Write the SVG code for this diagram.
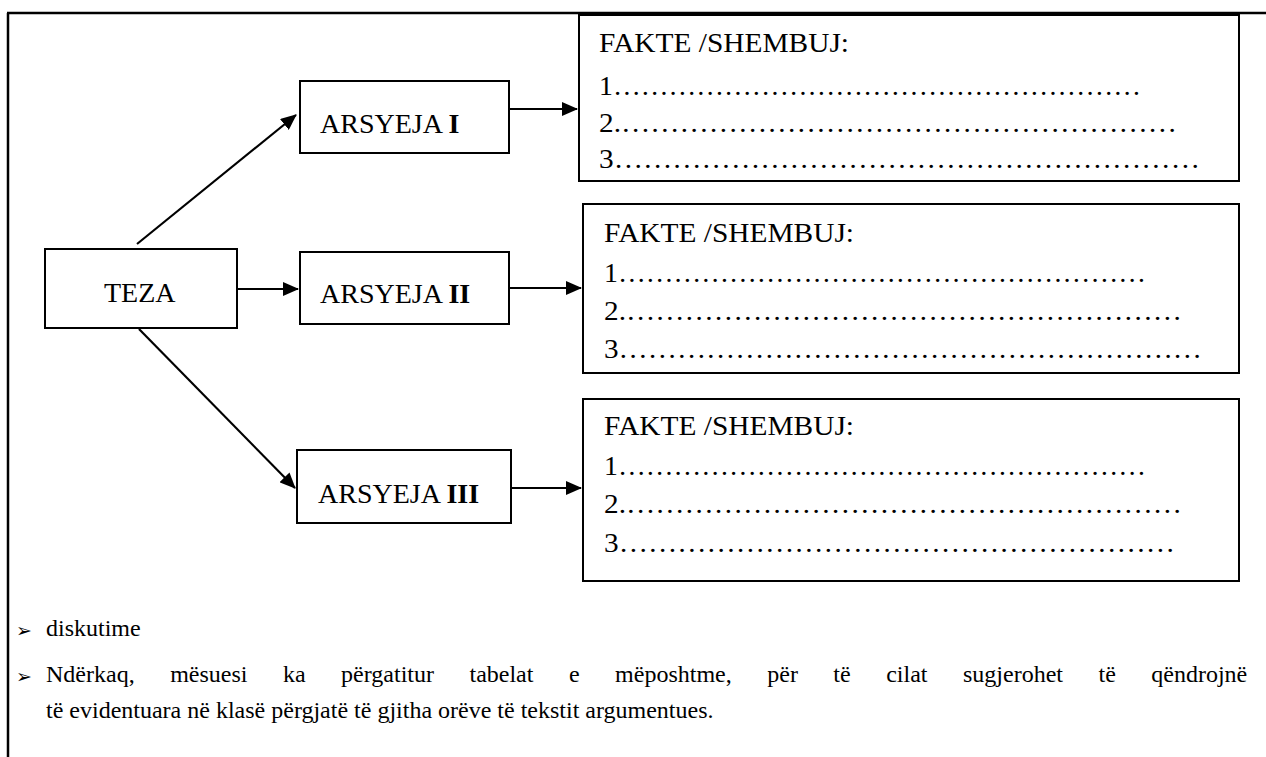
<svg xmlns="http://www.w3.org/2000/svg" width="1266" height="757" viewBox="0 0 1266 757">
<style>
.box{fill:#fff;stroke:#000;stroke-width:2}
.t{font-family:"Liberation Serif","Times New Roman",serif;font-size:28px;fill:#000}
.b{font-weight:bold}
.conn{stroke:#000;stroke-width:2.2;fill:none;marker-end:url(#ah)}
.body{font-family:"Liberation Serif","Times New Roman",serif;font-size:24px;fill:#000}
.bul{font-family:"DejaVu Sans",sans-serif;font-size:19px;fill:#000}
</style>
<defs>
<marker id="ah" markerUnits="userSpaceOnUse" markerWidth="16" markerHeight="14" refX="15" refY="7" orient="auto">
<path d="M0,0 L16,7 L0,14 Z" fill="#000"/>
</marker>
</defs>
<rect width="1266" height="757" fill="#fff"/>
<g id="frame" stroke="#000" stroke-width="2.5" fill="none">
<line x1="7" y1="13" x2="1266" y2="13"/>
<line x1="8" y1="13" x2="8" y2="757"/>
</g>
<g id="connectors">
<line class="conn" x1="137" y1="244" x2="296" y2="115"/>
<line class="conn" x1="238" y1="289" x2="298" y2="289"/>
<line class="conn" x1="139" y1="329" x2="295" y2="488"/>
<line class="conn" x1="510" y1="109" x2="577" y2="109"/>
<line class="conn" x1="510" y1="288" x2="581" y2="288"/>
<line class="conn" x1="512" y1="488" x2="581" y2="488"/>
</g>
<g id="teza">
<rect class="box" x="45" y="249" width="192" height="79"/>
<text class="t" x="104" y="302">TEZA</text>
</g>
<g id="arsyeja1">
<rect class="box" x="300" y="81" width="209" height="72"/>
<text class="t" x="320" y="133">ARSYEJA <tspan class="b">I</tspan></text>
</g>
<g id="arsyeja2">
<rect class="box" x="300" y="252" width="209" height="72"/>
<text class="t" x="320" y="303">ARSYEJA <tspan class="b">II</tspan></text>
</g>
<g id="arsyeja3">
<rect class="box" x="297" y="450" width="214" height="73"/>
<text class="t" x="318" y="503">ARSYEJA <tspan class="b">III</tspan></text>
</g>
<g id="fakte1">
<rect class="box" x="579" y="15" width="660" height="166"/>
<text class="t" x="599" y="52" textLength="250" lengthAdjust="spacingAndGlyphs">FAKTE /SHEMBUJ:</text>
<text class="t" x="599" y="95" textLength="542" lengthAdjust="spacingAndGlyphs">1…………………………………………………</text>
<text class="t" x="599" y="132" textLength="578" lengthAdjust="spacingAndGlyphs">2.…………………………………………………</text>
<text class="t" x="599" y="168" textLength="601" lengthAdjust="spacingAndGlyphs">3……………………………………………………</text>
</g>
<g id="fakte2">
<rect class="box" x="583" y="204" width="656" height="169"/>
<text class="t" x="604" y="242" textLength="250" lengthAdjust="spacingAndGlyphs">FAKTE /SHEMBUJ:</text>
<text class="t" x="604" y="282" textLength="542" lengthAdjust="spacingAndGlyphs">1…………………………………………………</text>
<text class="t" x="604" y="320" textLength="578" lengthAdjust="spacingAndGlyphs">2.…………………………………………………</text>
<text class="t" x="604" y="358" textLength="598" lengthAdjust="spacingAndGlyphs">3……………………………………………………</text>
</g>
<g id="fakte3">
<rect class="box" x="583" y="399" width="656" height="182"/>
<text class="t" x="604" y="435" textLength="250" lengthAdjust="spacingAndGlyphs">FAKTE /SHEMBUJ:</text>
<text class="t" x="604" y="475" textLength="542" lengthAdjust="spacingAndGlyphs">1…………………………………………………</text>
<text class="t" x="604" y="513" textLength="578" lengthAdjust="spacingAndGlyphs">2.…………………………………………………</text>
<text class="t" x="604" y="552" textLength="571" lengthAdjust="spacingAndGlyphs">3…………………………………………………</text>
</g>
<g id="bullets">
<text class="bul" x="16" y="637">➢</text>
<text class="body" x="46" y="636">diskutime</text>
<text class="bul" x="16" y="683">➢</text>
<text class="body" x="46" y="682" word-spacing="29.5">Ndërkaq, mësuesi ka përgatitur tabelat e mëposhtme, për të cilat sugjerohet të qëndrojnë</text>
<text class="body" x="46" y="718">të evidentuara në klasë përgjatë të gjitha orëve të tekstit argumentues.</text>
</g>
</svg>
